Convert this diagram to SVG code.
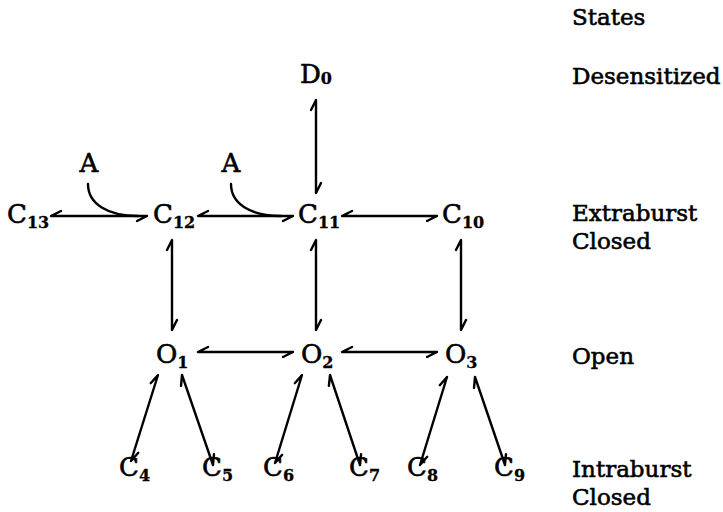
<svg xmlns="http://www.w3.org/2000/svg" width="723" height="512" viewBox="0 0 723 512">
<style>
text{font-family:"DejaVu Serif","Liberation Serif",serif;fill:#000;stroke:#000;stroke-width:0.6}
.n{font-size:26px}
.sub{font-size:16px;font-weight:bold;stroke-width:0.3}
.lab{font-size:23px}
.c path{fill:none;stroke:#000;stroke-width:2.4;stroke-linecap:round;stroke-linejoin:round}
</style>
<rect width="723" height="512" fill="#fff"/>
<g id="labels">
<text class="lab" x="572" y="25">States</text>
<text class="lab" x="572" y="84">Desensitized</text>
<text class="lab" x="572" y="221">Extraburst</text>
<text class="lab" x="572" y="249">Closed</text>
<text class="lab" x="572" y="364">Open</text>
<text class="lab" x="572" y="477">Intraburst</text>
<text class="lab" x="572" y="505">Closed</text>
</g>
<g id="D0"><text class="n" x="300" y="83">D<tspan class="sub" dy="1" font-weight="normal">0</tspan></text></g>
<g id="A1"><text class="n" x="89" y="172" text-anchor="middle">A</text></g>
<g id="A2"><text class="n" x="231" y="172" text-anchor="middle">A</text></g>
<g id="C13"><text class="n" x="7" y="223">C<tspan class="sub" dy="5">13</tspan></text></g>
<g id="C12"><text class="n" x="153" y="223">C<tspan class="sub" dy="5">12</tspan></text></g>
<g id="C11"><text class="n" x="298" y="223">C<tspan class="sub" dy="5">11</tspan></text></g>
<g id="C10"><text class="n" x="442" y="223">C<tspan class="sub" dy="5">10</tspan></text></g>
<g id="O1"><text class="n" x="156" y="363">O<tspan class="sub" dy="5">1</tspan></text></g>
<g id="O2"><text class="n" x="301" y="363">O<tspan class="sub" dy="5">2</tspan></text></g>
<g id="O3"><text class="n" x="445" y="363">O<tspan class="sub" dy="5">3</tspan></text></g>
<g id="C4"><text class="n" x="119" y="476">C<tspan class="sub" dy="5">4</tspan></text></g>
<g id="C5"><text class="n" x="202" y="476">C<tspan class="sub" dy="5">5</tspan></text></g>
<g id="C6"><text class="n" x="263" y="476">C<tspan class="sub" dy="5">6</tspan></text></g>
<g id="C7"><text class="n" x="349" y="476">C<tspan class="sub" dy="5">7</tspan></text></g>
<g id="C8"><text class="n" x="407" y="476">C<tspan class="sub" dy="5">8</tspan></text></g>
<g id="C9"><text class="n" x="494" y="476">C<tspan class="sub" dy="5">9</tspan></text></g>
<g id="connectors" class="c">
<path d="M61,211 L51,216 L147,216 L137,221"/>
<path d="M208,211 L198,216 L293,216 L283,221"/>
<path d="M352,211 L342,216 L437,216 L427,221"/>
<path d="M208,347 L198,352 L293,352 L283,357"/>
<path d="M352,347 L342,352 L437,352 L427,357"/>
<path d="M311,110 L316,100 L316,193 L321,183"/>
<path d="M167,250 L172,240 L172,330 L177,320"/>
<path d="M311,250 L316,240 L316,330 L321,320"/>
<path d="M456,250 L461,240 L461,330 L466,320"/>
<path d="M150.7,383.2 L158,375 L131,461 L138.3,452.8"/>
<path d="M181,385.9 L182,375 L213,465 L214,454.1"/>
<path d="M294.8,383.2 L302,375 L275,463 L282.2,454.8"/>
<path d="M328.9,385.9 L330,375 L360,465 L361.1,454.1"/>
<path d="M439.8,385.2 L447,377 L420,465 L427.2,456.8"/>
<path d="M474,387.9 L475,377 L505,465 L506,454.1"/>
<path d="M88,184 C88,204 108,216 138,216"/>
<path d="M231,184 C231,204 251,216 281,216"/>
</g>
</svg>
